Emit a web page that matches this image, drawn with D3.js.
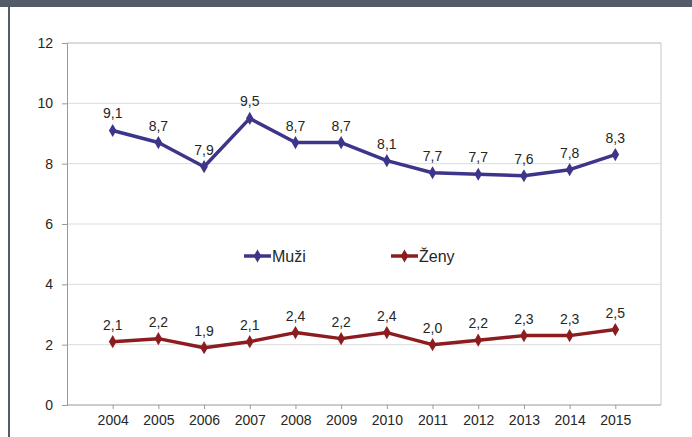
<!DOCTYPE html>
<html>
<head>
<meta charset="utf-8">
<script src="https://cdn.jsdelivr.net/npm/d3@7"></script>
<style>
  body { margin: 0; background: #fff; }
  svg { display: block; font-family: "Liberation Sans", Arial, sans-serif; }
</style>
</head>
<body>
<div id="chart"></div>
<script>
// data
var years = [2004, 2005, 2006, 2007, 2008, 2009, 2010, 2011, 2012, 2013, 2014, 2015];
var muzi = [9.1, 8.7, 7.9, 9.5, 8.7, 8.7, 8.1, 7.7, 7.65, 7.6, 7.8, 8.3];
var muziLabels = ["9,1", "8,7", "7,9", "9,5", "8,7", "8,7", "8,1", "7,7", "7,7", "7,6", "7,8", "8,3"];
var zeny = [2.1, 2.2, 1.9, 2.1, 2.4, 2.2, 2.4, 2.0, 2.15, 2.3, 2.3, 2.5];
var zenyLabels = ["2,1", "2,2", "1,9", "2,1", "2,4", "2,2", "2,4", "2,0", "2,2", "2,3", "2,3", "2,5"];
var yTicks = [0, 2, 4, 6, 8, 10, 12];

var W = 692, H = 437;
var plotLeft = 67, plotRight = 661, plotTop = 43, plotBottom = 405;

var svg = d3.select("#chart")
    .append("svg")
    .attr("width", W)
    .attr("height", H);

// frame of the screenshot
svg.append("rect").attr("x", 0).attr("y", 0).attr("width", W).attr("height", 7).attr("fill", "#545b69");
svg.append("rect").attr("x", 8).attr("y", 7).attr("width", 2).attr("height", H - 7).attr("fill", "#545b69");

var x = d3.scalePoint()
    .domain(years)
    .range([plotLeft, plotRight])
    .padding(1);

var y = d3.scaleLinear()
    .domain([0, 12])
    .range([plotBottom, plotTop]);

// gridlines
svg.append("g")
    .selectAll("line")
    .data(yTicks.filter(d => d > 0))
    .enter()
    .append("line")
    .attr("x1", plotLeft)
    .attr("x2", plotRight)
    .attr("y1", d => y(d))
    .attr("y2", d => y(d))
    .attr("stroke", "#dcdcdc")
    .attr("stroke-width", 1);

// right and top border of plot area
svg.append("line")
    .attr("x1", plotRight).attr("x2", plotRight)
    .attr("y1", plotTop).attr("y2", plotBottom)
    .attr("stroke", "#c8c8c8");
svg.append("line")
    .attr("x1", plotLeft).attr("x2", plotRight)
    .attr("y1", plotTop).attr("y2", plotTop)
    .attr("stroke", "#c8c8c8");

// Y axis
var yAxis = svg.append("g")
    .attr("transform", "translate(" + plotLeft + ",0)")
    .call(d3.axisLeft(y).tickValues(yTicks).tickSize(5).tickPadding(9));
yAxis.select(".domain").attr("stroke", "#999");
yAxis.selectAll(".tick line").attr("stroke", "#999");
yAxis.selectAll("text").style("font-size", "14px").attr("fill", "#262626");

// X axis
var xAxis = svg.append("g")
    .attr("transform", "translate(0," + plotBottom + ")")
    .call(d3.axisBottom(x).tickSizeOuter(0).tickSize(4).tickPadding(6));
xAxis.select(".domain").attr("stroke", "#999").attr("d", "M" + plotLeft + ",0H" + plotRight);
xAxis.selectAll(".tick line").attr("stroke", "#999");
xAxis.selectAll("text").style("font-size", "14px").attr("fill", "#262626");

var series = [
    { name: "Muži", values: muzi, labels: muziLabels, color: "#3d3589" },
    { name: "Ženy", values: zeny, labels: zenyLabels, color: "#8c1c1f" }
];

var line = d3.line()
    .x((d, i) => x(years[i]))
    .y(d => y(d));

var diamond = d3.symbol().type(d3.symbolDiamond).size(50);

series.forEach(function (s) {
    svg.append("path")
        .datum(s.values)
        .attr("d", line)
        .attr("fill", "none")
        .attr("stroke", s.color)
        .attr("stroke-width", 3.5)
        .attr("stroke-linejoin", "round");

    svg.append("g")
        .selectAll("path")
        .data(s.values)
        .enter()
        .append("path")
        .attr("d", diamond)
        .attr("transform", (d, i) => "translate(" + x(years[i]) + "," + y(d) + ")")
        .attr("fill", s.color);

    svg.append("g")
        .selectAll("text")
        .data(s.values)
        .enter()
        .append("text")
        .attr("x", (d, i) => x(years[i]))
        .attr("y", d => y(d) - 12)
        .attr("text-anchor", "middle")
        .style("font-size", "14px")
        .attr("fill", "#262626")
        .text((d, i) => s.labels[i]);
});

// legend
var legendX = [244, 391];
var legendY = 256;
series.forEach(function (s, i) {
    var g = svg.append("g").attr("transform", "translate(" + legendX[i] + "," + legendY + ")");
    g.append("line")
        .attr("x1", 0).attr("x2", 27)
        .attr("stroke", s.color)
        .attr("stroke-width", 3.5);
    g.append("path")
        .attr("d", diamond)
        .attr("transform", "translate(13.5,0)")
        .attr("fill", s.color);
    g.append("text")
        .attr("x", 28)
        .attr("dy", "0.35em")
        .style("font-size", "16px")
        .attr("fill", "#262626")
        .text(s.name);
});
</script>
</body>
</html>
